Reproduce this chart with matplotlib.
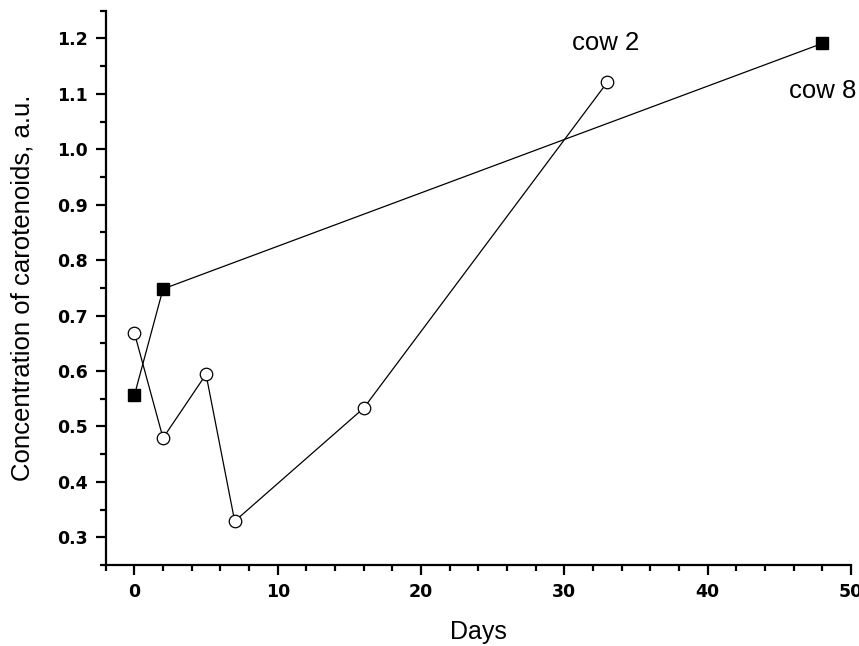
import matplotlib
matplotlib.use("Agg")
import matplotlib.pyplot as plt
from matplotlib.ticker import MultipleLocator

plt.rcParams['font.family'] = ['Liberation Sans', 'DejaVu Sans']

# cow 2 (open circles)
days_cow2 = [0, 2, 5, 7, 16, 33]
conc_cow2 = [0.669, 0.479, 0.594, 0.329, 0.533, 1.121]

# cow 8 (filled squares)
days_cow8 = [0, 2, 48]
conc_cow8 = [0.556, 0.748, 1.191]

fig = plt.figure(figsize=(8.59, 6.46), dpi=100)
ax = fig.add_axes([105.7 / 859, 1 - 565 / 646, (851 - 105.7) / 859, (565 - 10.7) / 646])

ax.plot(days_cow8, conc_cow8, '-', color='black', lw=0.9,
        marker='s', ms=8, mfc='black', mec='black', zorder=3)
ax.plot(days_cow2, conc_cow2, '-', color='black', lw=0.9,
        marker='o', ms=9, mfc='white', mec='black', mew=0.9, zorder=4)

ax.text(32.9, 1.179, 'cow 2', fontsize=18.5, ha='center', va='baseline')
ax.text(48.05, 1.092, 'cow 8', fontsize=18.5, ha='center', va='baseline', clip_on=False)

ax.set_xlim(-2, 50)
ax.set_ylim(0.25, 1.25)
ax.xaxis.set_major_locator(MultipleLocator(10))
ax.xaxis.set_minor_locator(MultipleLocator(2))
ax.yaxis.set_major_locator(MultipleLocator(0.1))
ax.yaxis.set_minor_locator(MultipleLocator(0.05))

for s in ['top', 'right']:
    ax.spines[s].set_visible(False)
for s in ['left', 'bottom']:
    ax.spines[s].set_linewidth(1.6)

ax.tick_params(which='major', direction='out', length=7, width=1.6, labelsize=12.5, pad=6)
ax.tick_params(which='minor', direction='out', length=4, width=1.6)
for lab in ax.get_xticklabels() + ax.get_yticklabels():
    lab.set_fontweight('bold')
    lab.set_fontfamily('DejaVu Sans')

ax.set_xlabel('Days', fontsize=18, labelpad=14)
ax.set_ylabel('Concentration of carotenoids, a.u.', fontsize=18.5, labelpad=16)

fig.savefig('out.png', dpi=100)
